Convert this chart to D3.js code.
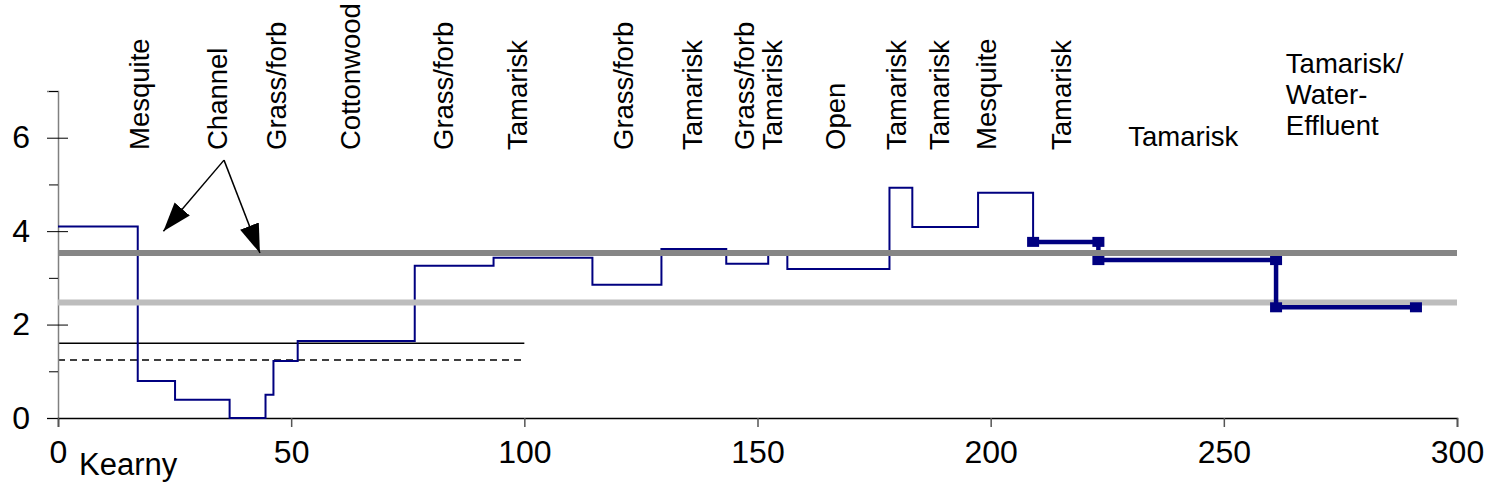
<!DOCTYPE html>
<html>
<head>
<meta charset="utf-8">
<script src="https://cdn.jsdelivr.net/npm/d3@7"></script>
<style>
  body { margin: 0; background: #fff; }
  svg { display: block; }
  text { font-family: "Liberation Sans", Arial, sans-serif; fill: #000; }
</style>
</head>
<body>
<svg id="chart" width="1494" height="498"></svg>
<script>
// Stepped profile: reach boundaries (distance downstream) and value for each reach
const stepEdges  = [0, 17.1, 25.1, 36.8, 44.5, 46.2, 51.4, 76.5, 93.4, 114.6, 129.4, 143.3, 152.3, 156.4, 178.3, 183.2, 197.3, 209.1];
const stepValues = [4.1, 0.79, 0.39, 0, 0.5, 1.22, 1.65, 3.26, 3.43, 2.85, 3.62, 3.3, 3.55, 3.19, 4.93, 4.09, 4.82];

// Measured reaches (heavy line with square markers)
const measuredX = [209.1, 223.1, 223.1, 261.2, 261.2, 291.2];
const measuredY = [3.77, 3.77, 3.38, 3.38, 2.37, 2.37];

// Reference levels
const upperRef = 3.53;      // dark grey band
const lowerRef = 2.47;      // light grey band
const solidRef = 1.6;       // thin black line
const dashedRef = 1.24;     // dashed line
const shortRefEnd = 100;

// Vegetation labels along the reach (rotated)
const vegLabels = ["Mesquite", "Channel", "Grass/forb", "Cottonwood", "Grass/forb", "Tamarisk",
                   "Grass/forb", "Tamarisk", "Grass/forb|Tamarisk", "Open", "Tamarisk", "Tamarisk",
                   "Mesquite", "Tamarisk"];
const vegLabelX = [17.4, 34.1, 46.8, 62.8, 82.6, 98.6, 121.2, 136.0, 150.2, 166.8, 179.7, 189.1, 199.0, 215.1];

// Horizontal labels
const flatLabels = ["Tamarisk", "Tamarisk/|Water-|Effluent"];
const flatLabelX = [241.3, 263.3];

// Arrow annotation (from a shared origin to two targets)
const arrowFrom = [35.6, 5.52];
const arrowTo = [[22.6, 4.0], [43.3, 3.53]];

// Axis ticks
const xTicks = [0, 50, 100, 150, 200, 250, 300];
const yTicks = [0, 1, 2, 3, 4, 5, 6, 7];
const yLabelled = [0, 2, 4, 6];

const svg = d3.select("#chart");
const x = d3.scaleLinear().domain([0, 300]).range([58, 1457]);
const y = d3.scaleLinear().domain([0, 7]).range([418, 91]);
const navy = "#000080";
const font = "Liberation Sans, Arial, sans-serif";

// Short reference lines
svg.append("line")
  .attr("x1", x(0)).attr("x2", x(shortRefEnd))
  .attr("y1", y(solidRef)).attr("y2", y(solidRef))
  .attr("stroke", "#000").attr("stroke-width", 1.5);
svg.append("line")
  .attr("x1", x(0)).attr("x2", x(shortRefEnd - 0.6))
  .attr("y1", y(dashedRef)).attr("y2", y(dashedRef))
  .attr("stroke", "#000").attr("stroke-width", 1.5)
  .attr("stroke-dasharray", "7,5");

// Axes
const xAxis = d3.axisBottom(x).tickValues(xTicks).tickSize(9).tickPadding(13);
const gx = svg.append("g").attr("transform", `translate(0,${y(0)})`).call(xAxis);
gx.select(".domain").attr("stroke", "#000").attr("stroke-width", 1.5);
gx.selectAll(".tick line").attr("stroke", "#555").attr("stroke-width", 1.5);
gx.selectAll(".tick text").attr("font-size", 32).attr("font-family", font);

const yAxis = d3.axisLeft(y).tickValues(yTicks).tickSize(11).tickPadding(17)
  .tickFormat(d => yLabelled.includes(d) ? d : "");
const gy = svg.append("g").attr("transform", `translate(${x(0)},0)`).call(yAxis);
gy.select(".domain").attr("stroke", "#808080").attr("stroke-width", 1.5);
gy.selectAll(".tick line")
  .attr("stroke", "#000").attr("stroke-width", 1)
  .attr("x1", d => yLabelled.includes(d) ? 10 : 0)
  .attr("x2", d => yLabelled.includes(d) ? -11 : -9);
gy.selectAll(".tick text").attr("font-size", 32).attr("font-family", font);
gx.raise();

// Stepped profile
const stepPts = stepValues.map((v, i) => [stepEdges[i], v]);
stepPts.push([stepEdges[stepEdges.length - 1], stepValues[stepValues.length - 1]]);
stepPts.push([measuredX[0], measuredY[0]]);
svg.append("path")
  .attr("d", d3.line().x(d => x(d[0])).y(d => y(d[1])).curve(d3.curveStepAfter)(stepPts))
  .attr("fill", "none").attr("stroke", navy).attr("stroke-width", 2);

// Light reference band
svg.append("line")
  .attr("x1", x(0)).attr("x2", x(300))
  .attr("y1", y(lowerRef)).attr("y2", y(lowerRef))
  .attr("stroke", "#bdbdbd").attr("stroke-width", 6);

// Measured reaches
const measPts = measuredX.map((v, i) => [v, measuredY[i]]);
svg.append("path")
  .attr("d", d3.line().x(d => x(d[0])).y(d => y(d[1]))(measPts))
  .attr("fill", "none").attr("stroke", navy).attr("stroke-width", 4.5);
svg.selectAll("rect.marker").data(measPts).join("rect")
  .attr("class", "marker")
  .attr("x", d => x(d[0]) - 6).attr("y", d => y(d[1]) - 5)
  .attr("width", 12).attr("height", 10)
  .attr("fill", navy);

// Dark reference band
svg.append("line")
  .attr("x1", x(0)).attr("x2", x(300))
  .attr("y1", y(upperRef)).attr("y2", y(upperRef))
  .attr("stroke", "#868686").attr("stroke-width", 6);

// Arrow annotation
const defs = svg.append("defs");
defs.append("marker")
  .attr("id", "head").attr("markerUnits", "userSpaceOnUse")
  .attr("markerWidth", 30).attr("markerHeight", 22)
  .attr("refX", 29).attr("refY", 11).attr("orient", "auto")
  .append("path").attr("d", "M0,1 L29,11 L0,21 Z").attr("fill", "#000");
arrowTo.forEach(t => {
  svg.append("line")
    .attr("x1", x(arrowFrom[0])).attr("y1", y(arrowFrom[1]))
    .attr("x2", x(t[0])).attr("y2", y(t[1]))
    .attr("stroke", "#000").attr("stroke-width", 1.5)
    .attr("marker-end", "url(#head)");
});

// Rotated vegetation labels
const labelBase = 150;
vegLabels.forEach((lab, i) => {
  const lines = lab.split("|");
  const cx = x(vegLabelX[i]);
  lines.forEach((ln, j) => {
    const off = (j - (lines.length - 1) / 2) * 28;
    svg.append("text")
      .attr("transform", `translate(${cx + off},${labelBase}) rotate(-90)`)
      .attr("dy", "0.35em")
      .attr("font-size", 27.5)
      .text(ln);
  });
});

// Horizontal labels
svg.append("text")
  .attr("x", x(flatLabelX[0])).attr("y", 146)
  .attr("text-anchor", "middle").attr("font-size", 27.5)
  .text(flatLabels[0]);
flatLabels[1].split("|").forEach((ln, j) => {
  svg.append("text")
    .attr("x", x(flatLabelX[1])).attr("y", 73 + j * 31)
    .attr("font-size", 27.5)
    .text(ln);
});

// Site name under the origin
svg.append("text").attr("x", 79).attr("y", 475).attr("font-size", 31).text("Kearny");
</script>
</body>
</html>
